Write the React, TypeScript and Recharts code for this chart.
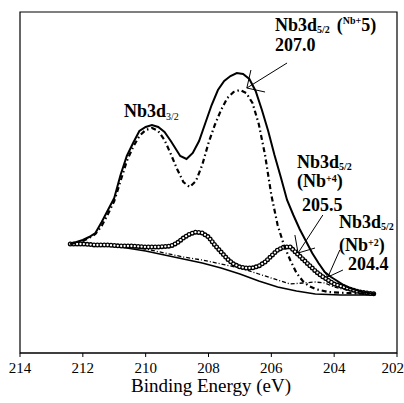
import React from "react";
import { LineChart, Line, XAxis, YAxis, ReferenceArea, ReferenceLine } from "recharts";

// binding energy (eV) and intensity (arb. units)
const envelopeEnergy = [212.4, 212.2, 212.0, 211.8, 211.6, 211.4, 211.2, 211.0, 210.8, 210.6, 210.4, 210.2, 210.0, 209.8, 209.6, 209.4, 209.2, 209.0, 208.9, 208.7, 208.5, 208.3, 208.1, 207.9, 207.7, 207.5, 207.3, 207.1, 206.9, 206.7, 206.5, 206.3, 206.1, 205.9, 205.7, 205.5, 205.3, 205.1, 204.9, 204.7, 204.5, 204.3, 204.1, 203.9, 203.7, 203.5, 203.3, 203.1, 202.9, 202.7];
const envelopeCounts = [109, 111, 113, 116, 120, 131, 143, 155, 178, 197, 210, 222, 226, 228, 226, 221, 212, 202, 197, 194, 200, 212, 230, 248, 263, 272, 277, 280, 279, 274, 262, 243, 222, 198, 176, 153, 138, 124, 112, 100, 90, 81, 76, 72, 68, 65, 63, 61, 60, 59];

const nb5Energy = [212.4, 212.0, 211.8, 211.6, 211.4, 211.2, 211.0, 210.8, 210.6, 210.4, 210.2, 210.0, 209.8, 209.6, 209.4, 209.2, 209.0, 208.8, 208.6, 208.4, 208.2, 208.0, 207.8, 207.6, 207.4, 207.2, 207.0, 206.8, 206.6, 206.4, 206.2, 206.0, 205.8, 205.6, 205.4, 205.2, 205.0, 204.8, 204.6, 204.2, 203.6, 202.7];
const nb5Counts = [109, 112, 115, 119, 127, 139, 152, 172, 192, 206, 217, 223, 225, 222, 213, 199, 184, 171, 166, 172, 188, 210, 228, 243, 255, 261, 263, 260, 250, 229, 198, 158, 128, 108, 93, 80, 72, 67, 64, 61, 60, 59];

const nb4Energy = [212.4, 212.0, 211.6, 211.2, 210.8, 210.4, 210.0, 209.6, 209.2, 209.0, 208.8, 208.6, 208.4, 208.2, 208.0, 207.8, 207.6, 207.4, 207.2, 207.0, 206.8, 206.6, 206.4, 206.2, 206.0, 205.8, 205.6, 205.4, 205.2, 205.0, 204.8, 204.6, 204.4, 204.2, 204.0, 203.6, 203.2, 202.7];
const nb4Counts = [109, 109, 108, 108, 107, 107, 106, 106, 107, 110, 115, 119, 121, 120, 116, 108, 101, 94, 89, 86, 85, 85, 87, 91, 97, 103, 106, 106, 100, 94, 88, 82, 77, 73, 69, 65, 61, 59];

const nb2Energy = [212.4, 211.6, 210.8, 210.0, 209.4, 208.8, 208.2, 207.6, 207.0, 206.4, 205.8, 205.4, 205.0, 204.6, 204.3, 204.0, 203.6, 203.0, 202.7];
const nb2Counts = [109, 108, 107, 104, 100, 96, 93, 89, 85, 79, 73, 69, 70, 71, 70, 66, 63, 60, 59];

const bgEnergy = [212.4, 211.6, 210.8, 210.0, 209.4, 208.8, 208.2, 207.6, 207.0, 206.4, 205.8, 205.2, 204.6, 203.8, 202.7];
const bgCounts = [109, 108, 106, 102, 98, 94, 90, 85, 79, 72, 66, 62, 59, 58, 58];

const xTicks = [214, 212, 210, 208, 206, 204, 202];

const toSeries = (e: number[], c: number[]) => e.map((v, i) => ({ e: v, y: c[i] }));

const envelope = toSeries(envelopeEnergy, envelopeCounts);
const nb5 = toSeries(nb5Energy, nb5Counts);
const nb4 = toSeries(nb4Energy, nb4Counts);
const nb2 = toSeries(nb2Energy, nb2Counts);
const background = toSeries(bgEnergy, bgCounts);

// arrows: [tail, tip, head1, head2] in (eV, intensity)
const arrows = [
  [[205.5, 290], [206.78, 265], [206.65, 283], [206.2, 261]],
  [[204.36, 138], [205.15, 100], [205.25, 118], [204.61, 105]],
  [[203.82, 103], [204.2, 76], [204.39, 85], [203.72, 83]],
];

const serif = "Liberation Serif, Times New Roman, Times, DejaVu Serif, serif";

export default function App() {
  return (
    <div style={{ position: "absolute", left: 0, top: 0, width: 404, height: 403, background: "#fff", fontFamily: serif }}>
      <LineChart width={404} height={403} data={envelope} margin={{ top: 12, right: 7, left: 20, bottom: 20 }}>
        <XAxis
          type="number"
          dataKey="e"
          domain={[202, 214]}
          reversed
          ticks={xTicks}
          allowDataOverflow
          height={30}
          tickSize={4}
          tickMargin={5}
          axisLine={{ stroke: "#000", strokeWidth: 1.2 }}
          tickLine={{ stroke: "#000" }}
          tick={{ fill: "#000", fontSize: 15, fontFamily: serif }}
        />
        <YAxis hide domain={[0, 341]} />
        <ReferenceArea x1={214} x2={202} y1={0} y2={341} fill="none" stroke="#000" strokeWidth={1.2} />
        <Line data={background} dataKey="y" stroke="#000" strokeWidth={1.6} dot={false} isAnimationActive={false} />
        <Line data={nb2} dataKey="y" stroke="#000" strokeWidth={1.3} strokeDasharray="4 2 1 2" dot={false} isAnimationActive={false} />
        <Line data={nb4} dataKey="y" stroke="#000" strokeWidth={5} strokeDasharray="0 3.4" strokeLinecap="round" dot={false} isAnimationActive={false} />
        <Line data={nb4} dataKey="y" stroke="#fff" strokeWidth={2.3} strokeDasharray="0 3.4" strokeLinecap="round" dot={false} isAnimationActive={false} />
        <Line data={nb5} dataKey="y" stroke="#000" strokeWidth={2.2} strokeDasharray="5 3 1.5 3" dot={false} isAnimationActive={false} />
        <Line data={envelope} dataKey="y" stroke="#000" strokeWidth={2} dot={false} isAnimationActive={false} />
        {arrows.map((a, i) => (
          <React.Fragment key={i}>
            <ReferenceLine segment={[{ x: a[0][0], y: a[0][1] }, { x: a[1][0], y: a[1][1] }]} stroke="#000" strokeWidth={1} />
            <ReferenceLine segment={[{ x: a[1][0], y: a[1][1] }, { x: a[2][0], y: a[2][1] }]} stroke="#000" strokeWidth={1} />
            <ReferenceLine segment={[{ x: a[1][0], y: a[1][1] }, { x: a[3][0], y: a[3][1] }]} stroke="#000" strokeWidth={1} />
          </React.Fragment>
        ))}
      </LineChart>
      <svg width={404} height={403} style={{ position: "absolute", left: 0, top: 0, pointerEvents: "none" }}>
        <g style={{ fontFamily: serif, fontWeight: 700 }} fill="#000" fontSize={18}>
          <text x={275} y={31}>
            Nb3d<tspan fontSize={10} dy={2}>5/2</tspan>
            <tspan dx={7} dy={-2}>(</tspan>
            <tspan fontSize={10} dy={-7}>Nb+</tspan>
            <tspan dy={7}>5)</tspan>
          </text>
          <text x={275} y={51}>207.0</text>
          <text x={124} y={117}>
            Nb3d<tspan fontSize={10} fontWeight="normal" dy={3}>3/2</tspan>
          </text>
          <text x={297} y={168}>
            Nb3d<tspan fontSize={10} dy={2}>5/2</tspan>
          </text>
          <text x={297} y={187}>
            (Nb<tspan fontSize={10} dy={-5}>+4</tspan>
            <tspan dy={5}>)</tspan>
          </text>
          <text x={302} y={211}>205.5</text>
          <text x={339} y={228}>
            Nb3d<tspan fontSize={10} dy={2}>5/2</tspan>
          </text>
          <text x={339} y={251}>
            (Nb<tspan fontSize={10} dy={-5}>+2</tspan>
            <tspan dy={5}>)</tspan>
          </text>
          <text x={348} y={270}>204.4</text>
        </g>
        <text x={211} y={392} textAnchor="middle" style={{ fontFamily: serif }} fontSize={19} fill="#000">
          Binding Energy (eV)
        </text>
      </svg>
    </div>
  );
}
